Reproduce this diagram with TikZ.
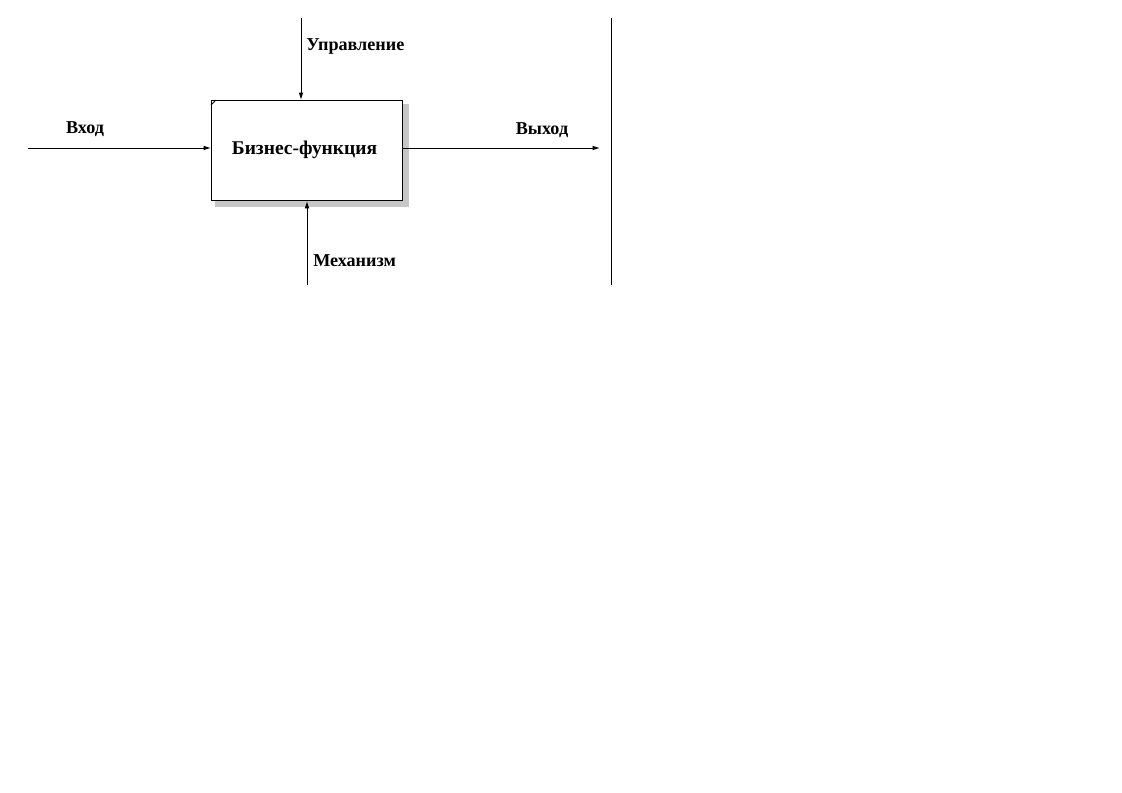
\documentclass[tikz,border=0pt]{standalone}
\usepackage{fontspec}
\setmainfont{Liberation Serif}
\usetikzlibrary{arrows.meta}
\begin{document}
\begin{tikzpicture}[x=0.75pt,y=-0.75pt,
  conn/.style={line width=0.75pt,-{Latex[length=5.5pt,width=3.5pt]}},
  lbl/.style={font=\bfseries\fontsize{13.6}{16}\selectfont,inner sep=0pt},
  shadowfill/.style={fill=gray!45,draw=none}]
\useasboundingbox (0,0) rectangle (1122,793);
% shadow
\fill[shadowfill] (403,104) rectangle (409,207);
\fill[shadowfill] (215,201) rectangle (409,207);
% box
\node[draw,line width=0.75pt,fill=white,minimum width=191*0.75pt,minimum height=100*0.75pt,inner sep=0pt,anchor=north west,
  font=\bfseries\fontsize{14.6}{18}\selectfont] (bf) at (211,100) {};
\node[font=\bfseries\fontsize{14.6}{18}\selectfont,inner sep=0pt] (bft) at (304.5,150) {Бизнес-функция};
\draw[line width=0.6pt] ([yshift=-5*0.75pt]bf.north west) -- ([xshift=5*0.75pt]bf.north west);
% free ends
\coordinate (inS) at (28,148);
\coordinate (ctS) at (301,18);
\coordinate (outE) at (600,148);
\coordinate (mcS) at (307,285);
\coordinate (vT) at (611,18);
\coordinate (vB) at (611,285);
% connectors
\draw[conn] (inS) -- (inS -| bf.west);
\draw[conn] (ctS) -- (ctS |- bf.north);
\draw[conn] (outE -| bf.east) -- (outE);
\draw[conn] (mcS) -- (mcS |- bf.south);
\draw[line width=0.75pt] (vT) -- (vB);
% labels
\node[lbl] (lin) at (85,129) {Вход};
\node[lbl,anchor=west] (lct) at (306,46) {Управление};
\node[lbl] (lout) at (542,130) {Выход};
\node[lbl,anchor=west] (lmc) at (313,261) {Механизм};
\end{tikzpicture}
\end{document}
